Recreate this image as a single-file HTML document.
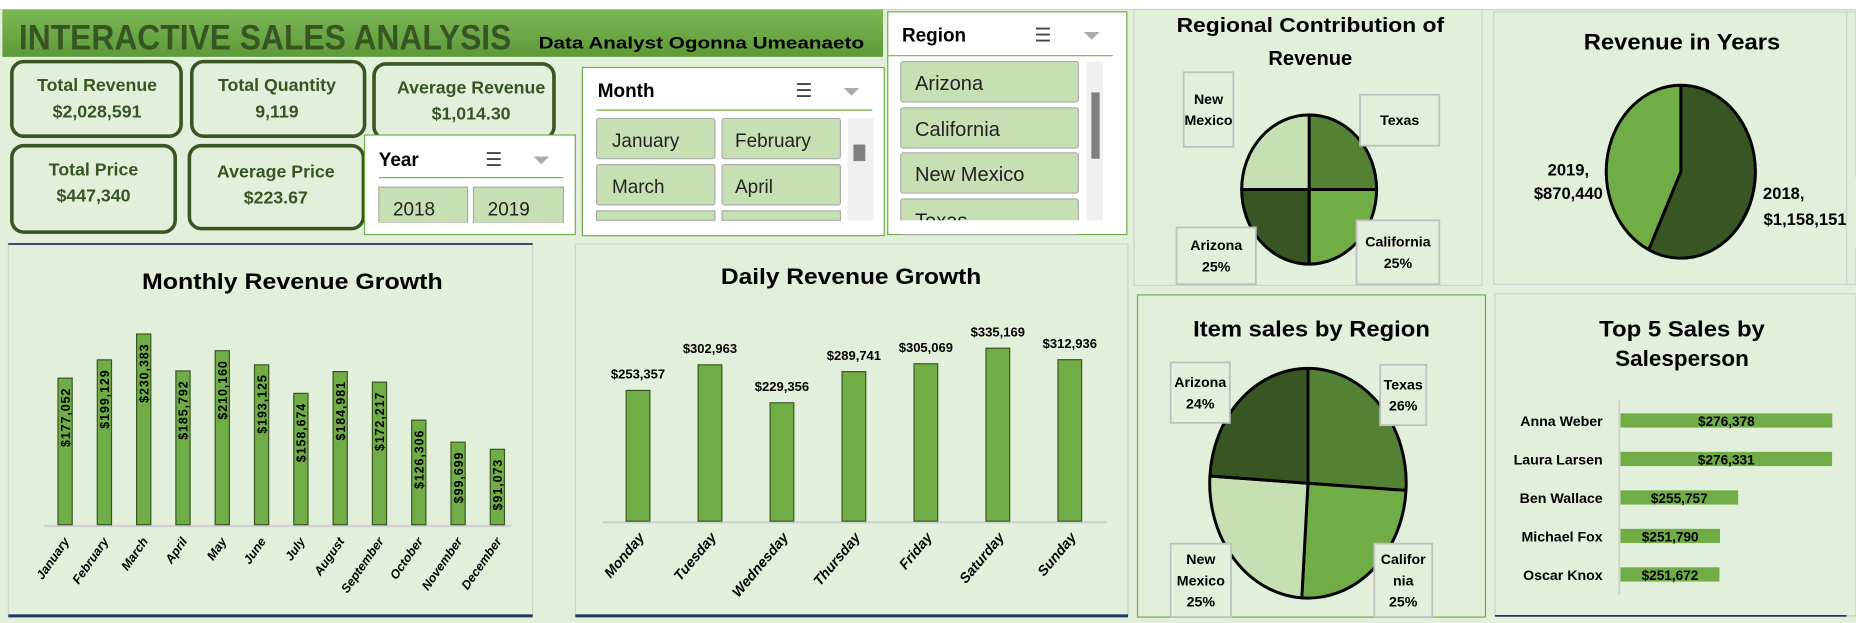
<!DOCTYPE html>
<html><head><meta charset="utf-8">
<style>
html,body{margin:0;padding:0;background:#fff;overflow:hidden}
svg{display:block}
text{font-family:"Liberation Sans",sans-serif}
</style></head>
<body>
<svg id="s" width="1856" height="623" viewBox="0 0 1568 526" preserveAspectRatio="none" xmlns="http://www.w3.org/2000/svg">
<defs>
<linearGradient id="hg" x1="0" y1="0" x2="0" y2="1"><stop offset="0" stop-color="#7cb756"/><stop offset="1" stop-color="#5e9a38"/></linearGradient>
</defs>
<rect x="0" y="0" width="1568" height="526" fill="#e2efda"/>
<rect x="0" y="0" width="1568" height="8" fill="#fff"/>
<line x1="0" y1="8" x2="1568" y2="8" stroke="#d4d4d4"/>
<g>
<rect x="2" y="8" width="744" height="40" fill="url(#hg)"/>
<text x="16" y="42" font-size="30" font-weight="bold" fill="#375623" textLength="416" lengthAdjust="spacingAndGlyphs">INTERACTIVE SALES ANALYSIS</text>
<text x="455" y="41" font-size="14" font-weight="bold" fill="#000" textLength="275" lengthAdjust="spacingAndGlyphs">Data Analyst Ogonna Umeanaeto</text>
</g>
<g font-weight="bold" fill="#375623" text-anchor="middle">
<g><rect x="10" y="52" width="143" height="63" rx="10" fill="#e2efda" stroke="#375623" stroke-width="3"/><text x="82" y="77" font-size="15" fill="#375623">Total Revenue</text><text x="82" y="99" font-size="15" fill="#375623">$2,028,591</text></g>
<g><rect x="162" y="52" width="146" height="63" rx="10" fill="#e2efda" stroke="#375623" stroke-width="3"/><text x="234" y="77" font-size="15" fill="#375623">Total Quantity</text><text x="234" y="99" font-size="15" fill="#375623">9,119</text></g>
<g><rect x="316" y="54" width="152" height="63" rx="10" fill="#e2efda" stroke="#375623" stroke-width="3"/><text x="398" y="79" font-size="15" fill="#375623">Average Revenue</text><text x="398" y="101" font-size="15" fill="#375623">$1,014.30</text></g>
<g><rect x="10" y="123" width="138" height="73" rx="10" fill="#e2efda" stroke="#375623" stroke-width="3"/><text x="79" y="148" font-size="15" fill="#375623">Total Price</text><text x="79" y="170" font-size="15" fill="#375623">$447,340</text></g>
<g><rect x="160" y="123" width="147" height="70" rx="10" fill="#e2efda" stroke="#375623" stroke-width="3"/><text x="233" y="150" font-size="15" fill="#375623">Average Price</text><text x="233" y="172" font-size="15" fill="#375623">$223.67</text></g>
</g>
<g>
<rect x="492" y="57" width="255" height="142" fill="#fff" stroke="#70ad47"/>
<text x="505" y="82" font-size="16" font-weight="bold">Month</text>
<text x="672" y="82" font-size="16" fill="#444">☰</text>
<text x="712" y="83" font-size="18" fill="#aaa">⏷</text>
<line x1="504" y1="93" x2="737" y2="93" stroke="#70ad47"/>
<g font-size="16" fill="#222">
<g><rect x="504" y="100" width="100" height="34" fill="#c6e0b4" stroke="#aaa" rx="2"/><text x="517" y="124">January</text></g>
<g><rect x="610" y="100" width="100" height="34" fill="#c6e0b4" stroke="#aaa" rx="2"/><text x="621" y="124">February</text></g>
<g><rect x="504" y="139" width="100" height="34" fill="#c6e0b4" stroke="#aaa" rx="2"/><text x="517" y="163">March</text></g>
<g><rect x="610" y="139" width="100" height="34" fill="#c6e0b4" stroke="#aaa" rx="2"/><text x="621" y="163">April</text></g>
<rect x="504" y="178" width="100" height="8" fill="#c6e0b4" stroke="#aaa"/><rect x="610" y="178" width="100" height="8" fill="#c6e0b4" stroke="#aaa"/>
</g>
<rect x="716" y="100" width="22" height="86" fill="#f0f0f0"/>
<rect x="721" y="122" width="10" height="14" fill="#808080"/>
</g>
<g>
<rect x="308" y="114" width="178" height="84" fill="#fff" stroke="#70ad47"/>
<text x="320" y="140" font-size="16" font-weight="bold">Year</text>
<text x="410" y="140" font-size="16" fill="#444">☰</text>
<text x="450" y="141" font-size="18" fill="#aaa">⏷</text>
<line x1="320" y1="150" x2="476" y2="150" stroke="#70ad47"/>
<g font-size="16" fill="#222">
<g><rect x="320" y="158" width="75" height="30" fill="#c6e0b4" stroke="#aaa"/><text x="332" y="182">2018</text></g>
<g><rect x="400" y="158" width="76" height="30" fill="#c6e0b4" stroke="#aaa"/><text x="412" y="182">2019</text></g>
</g>
<rect x="309" y="188" width="176" height="9" fill="#fff"/>
</g>
<g>
<rect x="750" y="10" width="202" height="188" fill="#fff" stroke="#70ad47"/>
<text x="762" y="35" font-size="16" font-weight="bold">Region</text>
<text x="874" y="35" font-size="16" fill="#444">☰</text>
<text x="915" y="36" font-size="18" fill="#aaa">⏷</text>
<line x1="750" y1="47" x2="940" y2="47" stroke="#70ad47"/>
<g font-size="17" fill="#222">
<g><rect x="761" y="52" width="150" height="34" fill="#c6e0b4" stroke="#aaa" rx="2"/><text x="773" y="76">Arizona</text></g>
<g><rect x="761" y="91" width="150" height="34" fill="#c6e0b4" stroke="#aaa" rx="2"/><text x="773" y="115">California</text></g>
<g><rect x="761" y="129" width="150" height="34" fill="#c6e0b4" stroke="#aaa" rx="2"/><text x="773" y="153">New Mexico</text></g>
<g><rect x="761" y="168" width="150" height="30" fill="#c6e0b4" stroke="#aaa" rx="2"/><text x="773" y="192">Texas</text></g>
</g>
<rect x="751" y="186" width="200" height="11.5" fill="#fff"/>
<rect x="918" y="52" width="14" height="134" fill="#f0f0f0"/>
<rect x="922" y="78" width="7" height="56" fill="#808080"/>
</g>
<rect x="7" y="206" width="443" height="314" fill="#e2efda" stroke="#d0d0d0"/>
<line x1="7" y1="206" x2="450" y2="206" stroke="#1f3864" stroke-width="1.5"/>
<line x1="7" y1="520" x2="450" y2="520" stroke="#1f3864" stroke-width="2.5"/>
<rect x="486" y="206" width="467" height="314" fill="#e2efda" stroke="#d0d0d0"/>
<line x1="486" y1="520" x2="953" y2="520" stroke="#1f3864" stroke-width="2.5"/>
<rect x="958" y="8" width="294" height="233" fill="#e2efda" stroke="#d0d0d0"/>
<rect x="1262" y="10" width="306" height="230" fill="#e2efda" stroke="#d0d0d0"/>
<rect x="961" y="249" width="294" height="272" fill="#e2efda" stroke="#70ad47"/>
<rect x="1263" y="248" width="305" height="272" fill="#e2efda" stroke="#d0d0d0"/>
<line x1="1263" y1="520" x2="1560" y2="520" stroke="#1f3864" stroke-width="1.5"/>
<g font-weight="bold" text-anchor="middle" fill="#000">
<text x="247" y="244" font-size="19" textLength="254" lengthAdjust="spacingAndGlyphs">Monthly Revenue Growth</text>
<text x="719" y="240" font-size="19" textLength="220" lengthAdjust="spacingAndGlyphs">Daily Revenue Growth</text>
<text x="1107" y="27" font-size="17" textLength="226" lengthAdjust="spacingAndGlyphs">Regional Contribution of</text>
<text x="1107" y="55" font-size="17">Revenue</text>
<text x="1421" y="42" font-size="19" textLength="166" lengthAdjust="spacingAndGlyphs">Revenue in Years</text>
<text x="1108" y="284" font-size="19" textLength="200" lengthAdjust="spacingAndGlyphs">Item sales by Region</text>
<text x="1421" y="284" font-size="19" textLength="140" lengthAdjust="spacingAndGlyphs">Top 5 Sales by</text>
<text x="1421" y="309" font-size="19">Salesperson</text>
</g>
<g id="charts"></g>
</svg>
<script>
const months=["January","February","March","April","May","June","July","August","September","October","November","December"];
const monthValues=[177052,199129,230383,185792,210160,193125,158674,184981,172217,126306,99699,91073];
const days=["Monday","Tuesday","Wednesday","Thursday","Friday","Saturday","Sunday"];
const dayValues=[253357,302963,229356,289741,305069,335169,312936];
const regionNames=["Texas","California","Arizona","New Mexico"];
const regionShares=[25,25,25,25];
const yearNames=["2018","2019"];
const yearValues=[1158151,870440];
const itemRegions=["Texas","California","New Mexico","Arizona"];
const itemShares=[26,25,25,24];
const people=["Anna Weber","Laura Larsen","Ben Wallace","Michael Fox","Oscar Knox"];
const peopleValues=[276378,276331,255757,251790,251672];

const NS="http://www.w3.org/2000/svg";
const root=document.getElementById('charts');
function el(tag,attrs,parent,txt){const e=document.createElementNS(NS,tag);for(const k in attrs)e.setAttribute(k,attrs[k]);if(txt!==undefined)e.textContent=txt;(parent||root).appendChild(e);return e;}
function fmt(v){return "$"+v.toLocaleString("en-US");}

(function(){
 const base=443,x0=55,step=33.2,bw=12,k=161/230383;
 const y=v=>base-v*k, x=i=>x0+i*step;
 const ax=el('line',{x1:37,y1:base+1,x2:432,y2:base+1,stroke:'#d0d0d0','stroke-width':2});
 
 
 monthValues.forEach((v,i)=>{
  const b=el('rect',{x:x(i)-bw/2,y:y(v),width:bw,height:base-y(v),fill:'#70ad47',stroke:'#375623','stroke-width':1});
  
  
  const t=el('text',{x:0,y:0,transform:`translate(${x(i)+4},${y(v)+8}) rotate(-90)`,'font-size':10.5,'font-weight':'bold','text-anchor':'end','letter-spacing':'0.8'},null,fmt(v));
  
  
  const l=el('text',{x:0,y:0,transform:`translate(${x(i)+4},${base+14}) rotate(-55)`,'font-size':10.5,'font-weight':'bold','font-style':'italic','text-anchor':'end'},null,months[i]);
  
  
 });
})();
(function(){
 const base=440,x0=539,step=60.8,bw=20,k=146/335169;
 const y=v=>base-v*k, x=i=>x0+i*step;
 const ax=el('line',{x1:509,y1:base+1,x2:935,y2:base+1,stroke:'#d0d0d0','stroke-width':2});
 
 
 dayValues.forEach((v,i)=>{
  const b=el('rect',{x:x(i)-bw/2,y:y(v),width:bw,height:base-y(v),fill:'#70ad47',stroke:'#375623','stroke-width':1});
  
  
  const t=el('text',{x:x(i),y:y(v)-10,'font-size':11,'font-weight':'bold','text-anchor':'middle'},null,fmt(v));
  
  
  const l=el('text',{x:0,y:0,transform:`translate(${x(i)+6},${base+14}) rotate(-50)`,'font-size':12,'font-weight':'bold','font-style':'italic','text-anchor':'end'},null,days[i]);
  
  
 });
})();
function pie(cx,cy,rx,ry,vals,names,colors,prefix){
 const tot=vals.reduce((a,b)=>a+b,0);let a=-Math.PI/2;
 vals.forEach((v,i)=>{
  const a2=a+v/tot*2*Math.PI;
  const p1=[cx+rx*Math.cos(a),cy+ry*Math.sin(a)],p2=[cx+rx*Math.cos(a2),cy+ry*Math.sin(a2)];
  const large=(a2-a)>Math.PI?1:0;
  const s=el('path',{d:`M${cx},${cy}L${p1[0]},${p1[1]}A${rx},${ry} 0 ${large} 1 ${p2[0]},${p2[1]}Z`,fill:colors[i],stroke:'#000','stroke-width':2.5,'stroke-linejoin':'round'});
  
  
  a=a2;
 });
}
pie(1106,160,57,63,regionShares,regionNames,['#548235','#70ad47','#375623','#c6e0b4'],'regional');
pie(1420,145,63,73,yearValues,yearNames,['#375623','#70ad47'],'years');
pie(1105,408,83,97,itemShares,itemRegions,['#548235','#70ad47','#c6e0b4','#375623'],'item');

function box(x,y,w,h,lines,name,fs){
 const g=el('g',{});
 
 
 el('rect',{x:x,y:y,width:w,height:h,fill:'#e2efda',stroke:'#bfbfbf','stroke-width':1.5},g);
 const lh=fs*1.5,sy=y+h/2-(lines.length-1)*lh/2+fs*0.35;
 lines.forEach((t,i)=>el('text',{x:x+w/2,y:sy+i*lh,'font-size':fs,'font-weight':'bold','text-anchor':'middle'},g,t));
}
box(1000,61,42,63,["New","Mexico"],'label-regional-new-mexico',12);
box(1149,80,67,43,["Texas"],'label-regional-texas',12);
box(994,192,67,48,["Arizona",regionShares[2]+"%"],'label-regional-arizona',12);
box(1146,186,70,54,["California",regionShares[1]+"%"],'label-regional-california',12);
el('text',{x:1325,y:148,'font-size':14,'font-weight':'bold','text-anchor':'middle'},null,yearNames[1]+",");
el('text',{x:1325,y:168,'font-size':14,'font-weight':'bold','text-anchor':'middle'},null,fmt(yearValues[1]));
el('text',{x:1507,y:168,'font-size':14,'font-weight':'bold','text-anchor':'middle'},null,yearNames[0]+",");
el('text',{x:1490,y:190,'font-size':14,'font-weight':'bold'},null,fmt(yearValues[0]));
el('rect',{x:1560,y:150,width:8,height:60,fill:'#e2efda'});
el('line',{x1:1560,y1:10,x2:1560,y2:240,stroke:'#d0d0d0'});
box(989,306,50,51,["Arizona",itemShares[3]+"%"],'label-item-arizona',12);
box(1166,308,39,51,["Texas",itemShares[0]+"%"],'label-item-texas',12);
box(989,459,51,62,["New","Mexico",itemShares[2]+"%"],'label-item-new-mexico',12);
box(1161,459,49,62,["Califor","nia",itemShares[1]+"%"],'label-item-california',12);
(function(){
 const x0=1369,xmin=230000,k=179/(276378-230000),y0=355,step=32.5,bh=12;
 const x=v=>x0+(v-xmin)*k;
 const ax=el('line',{x1:x0-1,y1:338,x2:x0-1,y2:502,stroke:'#d0d0d0','stroke-width':1.5});
 
 
 peopleValues.forEach((v,i)=>{
  const cy=y0+i*step;
  const b=el('rect',{x:x0,y:cy-bh/2,width:x(v)-x0,height:bh,fill:'#70ad47'});
  
  
  const t=el('text',{x:(x0+x(v))/2,y:cy+4.5,'font-size':11.5,'font-weight':'bold','text-anchor':'middle'},null,fmt(v));
  
  
  const n=el('text',{x:1354,y:cy+4.5,'font-size':12,'font-weight':'bold','text-anchor':'end'},null,people[i]);
  
  
 });
})();
</script>
</body></html>
